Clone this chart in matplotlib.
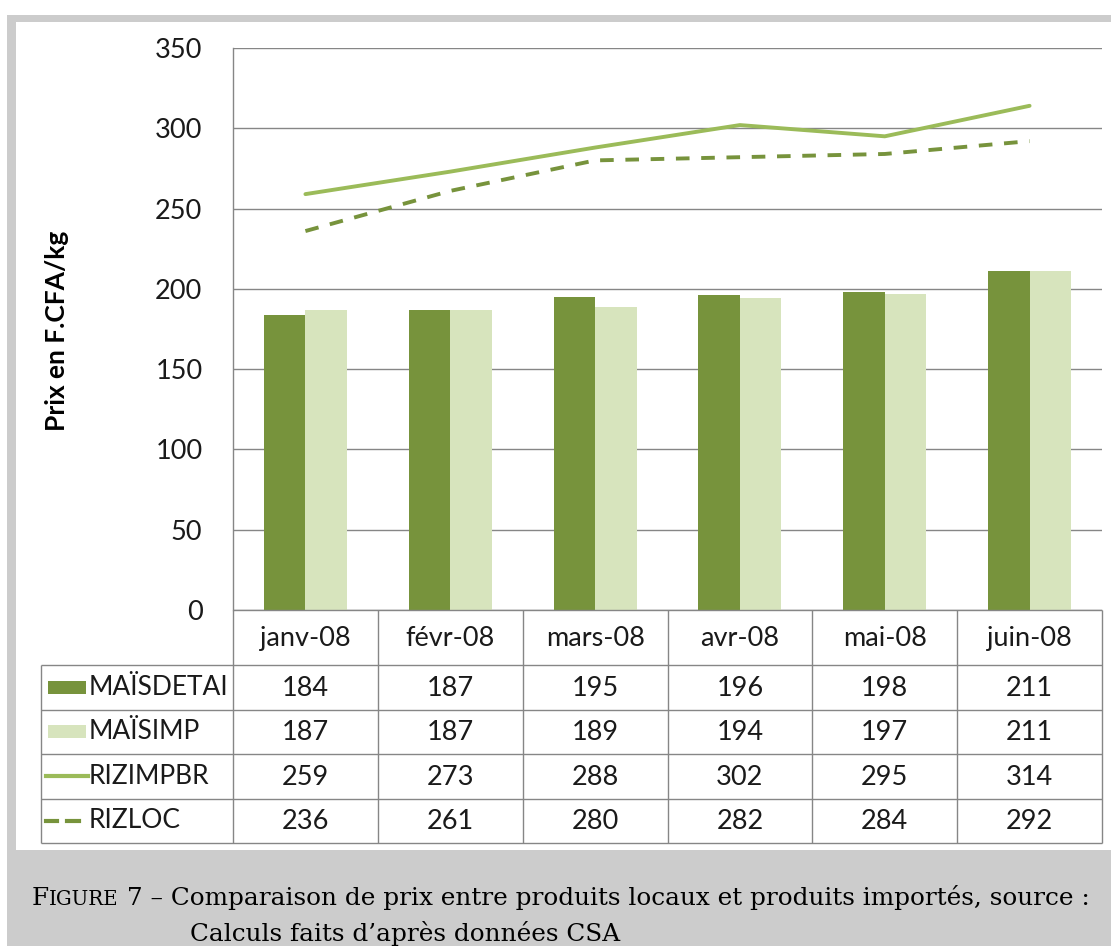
import matplotlib
matplotlib.use("Agg")
import matplotlib.pyplot as plt
from matplotlib.patches import Rectangle
from matplotlib.lines import Line2D

categories = ["janv-08", "févr-08", "mars-08", "avr-08", "mai-08", "juin-08"]
series_names = ["MAÏSDETAI", "MAÏSIMP", "RIZIMPBR", "RIZLOC"]
mais_detail = [184, 187, 195, 196, 198, 211]
mais_imp = [187, 187, 189, 194, 197, 211]
riz_imp_br = [259, 273, 288, 302, 295, 314]
riz_loc = [236, 261, 280, 282, 284, 292]
yticks = [0, 50, 100, 150, 200, 250, 300, 350]
ylabel = "Prix en F.CFA/kg"
caption_sc = "Figure"
caption_1 = " 7 – Comparaison de prix entre produits locaux et produits importés, source :"
caption_2 = "Calculs faits d’après données CSA"

DARK = "#77933C"
LIGHT = "#D7E4BD"
LINE = "#9BBB59"
GRID = "#868686"
FONT = "Lato"

W, H = 1111, 946
fig = plt.figure(figsize=(W / 100, H / 100), dpi=100)
fig.patch.set_facecolor("white")

def fx(px):
    return px / W

def fy(py):
    return 1 - py / H

# gray frame and white panel
fig.patches.append(Rectangle((fx(7), fy(946)), fx(1111) - fx(7), fy(15) - fy(946),
                             transform=fig.transFigure, facecolor="#cccccc", edgecolor="none", zorder=-2))
fig.patches.append(Rectangle((fx(16), fy(850)), fx(1111) - fx(16), fy(22) - fy(850),
                             transform=fig.transFigure, facecolor="white", edgecolor="none", zorder=-1))

# main plot axes
L, R, T, B = 233, 1102, 48, 610
ax = fig.add_axes([fx(L), fy(B), fx(R) - fx(L), fy(T) - fy(B)])
ax.set_facecolor("none")
n = len(categories)
x = [i + 0.5 for i in range(n)]
bw = 0.287
ax.bar([v - bw / 2 for v in x], mais_detail, width=bw, color=DARK, zorder=3)
ax.bar([v + bw / 2 for v in x], mais_imp, width=bw, color=LIGHT, zorder=3)
ax.plot(x, riz_imp_br, color=LINE, lw=2.8, zorder=4, solid_capstyle="round")
ax.plot(x, riz_loc, color=DARK, lw=2.8, ls=(0, (3.5, 3.0)), zorder=4)
ax.set_xlim(0, n)
ax.set_ylim(0, 350)
ax.set_yticks(yticks)
ax.set_xticks([])
for s in ["top", "right", "bottom"]:
    ax.spines[s].set_visible(False)
ax.spines["left"].set_color(GRID)
ax.spines["left"].set_linewidth(1)
ax.yaxis.grid(True, color=GRID, lw=1, zorder=0)
ax.set_axisbelow(True)
ax.tick_params(axis="y", length=0, pad=22, labelsize=19.5, labelcolor="#1a1a1a")
for lab in ax.get_yticklabels():
    lab.set_fontfamily(FONT)
fig.text(fx(57), fy(331), ylabel, rotation=90, ha="center", va="center",
         fontsize=19, fontweight="bold", family=FONT, color="black")

# data table axes (pixel coordinates)
TL = 41
tax = fig.add_axes([fx(TL), fy(843), fx(R) - fx(TL), fy(B) - fy(843)])
tax.set_xlim(TL, R)
tax.set_ylim(843, B)
tax.axis("off")
colw = (R - L) / n
row_y = [B, 665, 709.5, 754, 798.5, 843]
lk = dict(color=GRID, lw=1, solid_capstyle="butt")
tax.add_line(Line2D([L, R], [B, B], clip_on=False, **lk))
for i in range(n + 1):
    tax.add_line(Line2D([L + i * colw] * 2, [B, 843], clip_on=False, **lk))
for yy in row_y[1:]:
    tax.add_line(Line2D([TL, R], [yy, yy], clip_on=False, **lk))
tax.add_line(Line2D([TL, TL], [row_y[1], 843], clip_on=False, **lk))
TS = 19.5
for i, c in enumerate(categories):
    tax.text(L + (i + 0.5) * colw, (row_y[0] + row_y[1]) / 2 + 1, c, ha="center", va="center",
             fontsize=TS, family=FONT, color="#1a1a1a")
rows = [mais_detail, mais_imp, riz_imp_br, riz_loc]
for r, vals in enumerate(rows):
    yc = (row_y[r + 1] + row_y[r + 2]) / 2
    for i, v in enumerate(vals):
        tax.text(L + (i + 0.5) * colw, yc + 1, str(v), ha="center", va="center",
                 fontsize=TS, family=FONT, color="#1a1a1a")
    tax.text(89, yc, series_names[r], ha="left", va="center", fontsize=19, family=FONT, color="#1a1a1a")
    if r == 0:
        tax.add_patch(Rectangle((48, yc - 6.5), 38, 13, facecolor=DARK, edgecolor="none"))
    elif r == 1:
        tax.add_patch(Rectangle((48, yc - 6.5), 38, 13, facecolor=LIGHT, edgecolor="none"))
    elif r == 2:
        tax.add_line(Line2D([46, 88], [yc, yc], color=LINE, lw=3))
    else:
        tax.add_line(Line2D([46, 57], [yc, yc], color=DARK, lw=3))
        tax.add_line(Line2D([67, 79], [yc, yc], color=DARK, lw=3))

# caption
fig.canvas.draw()
rend = fig.canvas.get_renderer()
CF = "DejaVu Serif"
cs = 17.8
t1 = fig.text(fx(32), fy(905), caption_sc[0], fontsize=cs, family=CF, va="baseline", ha="left")
xpos = t1.get_window_extent(rend).x1
t2 = fig.text(xpos / W, fy(905), caption_sc[1:].upper(), fontsize=cs * 0.8, family=CF, va="baseline", ha="left")
xpos = t2.get_window_extent(rend).x1
t3 = fig.text(xpos / W, fy(905), caption_1, fontsize=cs, family=CF, va="baseline", ha="left")
fig.text(fx(190), fy(941), caption_2, fontsize=cs, family=CF, va="baseline", ha="left")

fig.savefig("out.png", dpi=100)
